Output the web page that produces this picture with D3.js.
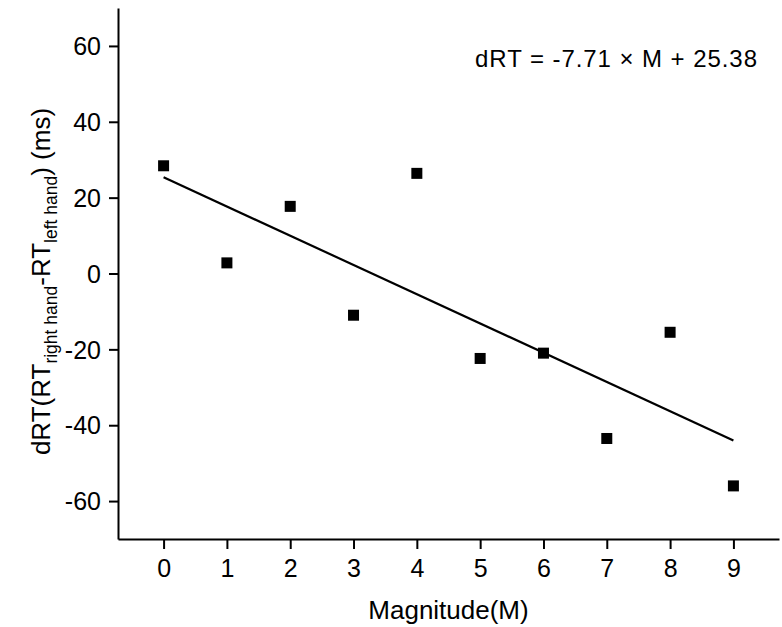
<!DOCTYPE html>
<html>
<head>
<meta charset="utf-8">
<script src="https://cdn.jsdelivr.net/npm/d3@7"></script>
<style>
  body { margin: 0; background: #fff; }
  svg { display: block; font-family: "Liberation Sans", Arial, sans-serif; }
</style>
</head>
<body>
<svg width="782" height="627"></svg>
<script>
// datos
const magnitudes = [0, 1, 2, 3, 4, 5, 6, 7, 8, 9];
const dRT = [28.4, 2.8, 17.7, -11.0, 26.4, -22.4, -21.0, -43.5, -15.5, -56.0];
const slope = -7.71;
const intercept = 25.38;
const xTicks = [0, 1, 2, 3, 4, 5, 6, 7, 8, 9];
const yTicks = [-60, -40, -20, 0, 20, 40, 60];

const svg = d3.select("svg");
const plotLeft = 118, plotRight = 779, plotTop = 8, plotBottom = 539;

const x = d3.scaleLinear().domain([-0.72, 9.72]).range([plotLeft, plotRight]);
const y = d3.scaleLinear().domain([-70, 70]).range([plotBottom, plotTop]);

// Ejes (guion normal para negativos, como en el original)
const fmt = (d) => String(d);
const xAxis = svg.append("g")
  .attr("transform", `translate(0,${plotBottom})`)
  .call(d3.axisBottom(x).tickValues(xTicks).tickFormat(fmt).tickSizeInner(10).tickSizeOuter(0).tickPadding(10));
const yAxis = svg.append("g")
  .attr("transform", `translate(${plotLeft},0)`)
  .call(d3.axisLeft(y).tickValues(yTicks).tickFormat(fmt).tickSizeInner(9).tickSizeOuter(0).tickPadding(8));

[xAxis, yAxis].forEach((g) => {
  g.select(".domain").attr("stroke", "#000").attr("stroke-width", 2);
  g.selectAll(".tick line").attr("stroke", "#000").attr("stroke-width", 2);
  g.selectAll(".tick text")
    .attr("fill", "#000")
    .style("font-size", "25px")
    .style("font-family", "'Liberation Sans', Arial, sans-serif");
});
yAxis.selectAll(".tick text").attr("dy", "0.35em");

// Recta de ajuste
const x0 = magnitudes[0], x1 = magnitudes[magnitudes.length - 1];
svg.append("line")
  .attr("x1", x(x0)).attr("y1", y(slope * x0 + intercept))
  .attr("x2", x(x1)).attr("y2", y(slope * x1 + intercept))
  .attr("stroke", "#000")
  .attr("stroke-width", 2.2);

// Puntos
const size = 11;
svg.append("g")
  .selectAll("rect")
  .data(magnitudes)
  .enter()
  .append("rect")
  .attr("x", (d) => x(d) - size / 2)
  .attr("y", (d, i) => y(dRT[i]) - size / 2)
  .attr("width", size)
  .attr("height", size)
  .attr("fill", "#000");

// Ecuación
svg.append("text")
  .attr("x", 757)
  .attr("y", 67)
  .attr("text-anchor", "end")
  .style("font-size", "24px")
  .attr("textLength", 282)
  .attr("lengthAdjust", "spacing")
  .text("dRT = -7.71 × M + 25.38");

// Título eje X
svg.append("text")
  .attr("x", (plotLeft + plotRight) / 2)
  .attr("y", 619)
  .attr("text-anchor", "middle")
  .style("font-size", "26px")
  .text("Magnitude(M)");

// Título eje Y con subíndices
const yLabel = svg.append("text")
  .attr("transform", `translate(50,${(plotTop + plotBottom) / 2 + 8}) rotate(-90)`)
  .attr("text-anchor", "middle")
  .style("font-size", "26px");
yLabel.append("tspan").text("dRT(RT");
yLabel.append("tspan").attr("dy", 7).style("font-size", "17.5px").text("right hand");
yLabel.append("tspan").attr("dy", -7).text("-RT");
yLabel.append("tspan").attr("dy", 7).style("font-size", "17.5px").text("left hand");
yLabel.append("tspan").attr("dy", -7).text(") (ms)");
</script>
</body>
</html>
